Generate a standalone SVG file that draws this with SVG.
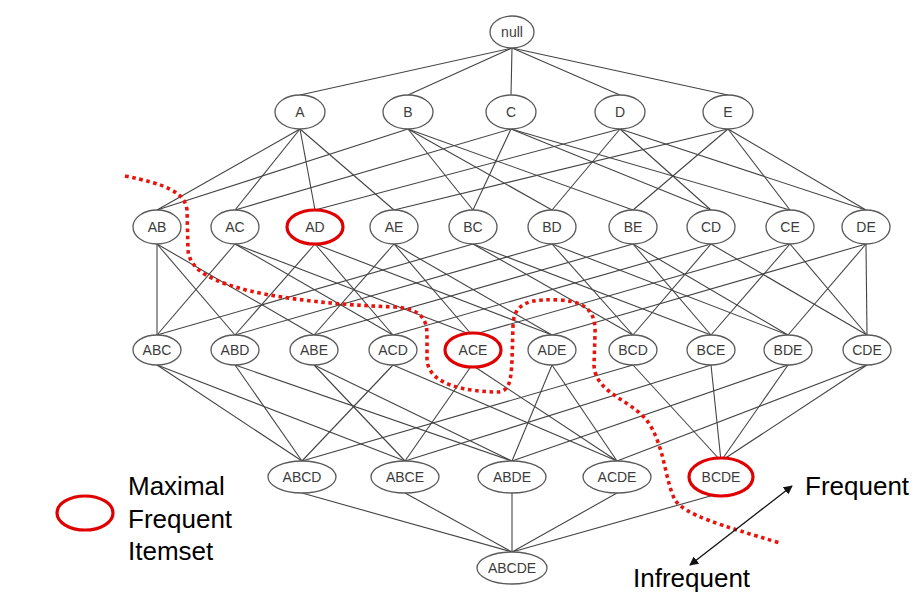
<svg xmlns="http://www.w3.org/2000/svg" width="915" height="599" viewBox="0 0 915 599">
  <style>
    .edge { stroke: #444444; stroke-width: 1.1; fill: none; }
    .node ellipse { fill: #ffffff; stroke: #5a5a5a; stroke-width: 1.3; }
    .node text { font-family: "Liberation Sans", Arial, sans-serif; font-size: 14px; fill: #3c3c3c; text-anchor: middle; dominant-baseline: central; }
    .node ellipse.maximal { stroke: #e00000; stroke-width: 3.2; }
    .border { stroke: #e8140c; stroke-width: 3.6; fill: none; stroke-dasharray: 3.6 3.6; }
    .legend { font-family: "Liberation Sans", Arial, sans-serif; font-size: 26px; fill: #000000; }
    .dir { stroke: #111111; stroke-width: 1.3; fill: none; }
  </style>
  <defs>
    <marker id="head" viewBox="0 0 10 10" refX="9" refY="5" markerWidth="9" markerHeight="9" markerUnits="userSpaceOnUse" orient="auto-start-reverse">
      <path d="M0,0 L10,5 L0,10 Z" fill="#111111"/>
    </marker>
  </defs>
  <rect width="915" height="599" fill="#ffffff"/>

  <!-- lattice edges: bottom of subset to top of superset -->
  <g id="connectors" class="edge">
    <!-- null to singletons -->
    <line x1="512" y1="48" x2="300" y2="95"/>
    <line x1="512" y1="48" x2="408" y2="95"/>
    <line x1="512" y1="48" x2="511" y2="95"/>
    <line x1="512" y1="48" x2="620" y2="95"/>
    <line x1="512" y1="48" x2="728" y2="95"/>
    <!-- singletons to pairs -->
    <line x1="300" y1="129" x2="157" y2="210"/>
    <line x1="300" y1="129" x2="235" y2="210"/>
    <line x1="300" y1="129" x2="315" y2="210"/>
    <line x1="300" y1="129" x2="394" y2="210"/>
    <line x1="408" y1="129" x2="157" y2="210"/>
    <line x1="408" y1="129" x2="473" y2="210"/>
    <line x1="408" y1="129" x2="552" y2="210"/>
    <line x1="408" y1="129" x2="633" y2="210"/>
    <line x1="511" y1="129" x2="235" y2="210"/>
    <line x1="511" y1="129" x2="473" y2="210"/>
    <line x1="511" y1="129" x2="711" y2="210"/>
    <line x1="511" y1="129" x2="790" y2="210"/>
    <line x1="620" y1="129" x2="315" y2="210"/>
    <line x1="620" y1="129" x2="552" y2="210"/>
    <line x1="620" y1="129" x2="711" y2="210"/>
    <line x1="620" y1="129" x2="866" y2="210"/>
    <line x1="728" y1="129" x2="394" y2="210"/>
    <line x1="728" y1="129" x2="633" y2="210"/>
    <line x1="728" y1="129" x2="790" y2="210"/>
    <line x1="728" y1="129" x2="866" y2="210"/>
    <!-- pairs to triples -->
    <line x1="157" y1="244" x2="157" y2="335"/>
    <line x1="157" y1="244" x2="235" y2="335"/>
    <line x1="157" y1="244" x2="314" y2="335"/>
    <line x1="235" y1="244" x2="157" y2="335"/>
    <line x1="235" y1="244" x2="393" y2="335"/>
    <line x1="235" y1="244" x2="472" y2="335"/>
    <line x1="315" y1="244" x2="235" y2="335"/>
    <line x1="315" y1="244" x2="393" y2="335"/>
    <line x1="315" y1="244" x2="552" y2="335"/>
    <line x1="394" y1="244" x2="314" y2="335"/>
    <line x1="394" y1="244" x2="472" y2="335"/>
    <line x1="394" y1="244" x2="552" y2="335"/>
    <line x1="473" y1="244" x2="157" y2="335"/>
    <line x1="473" y1="244" x2="633" y2="335"/>
    <line x1="473" y1="244" x2="711" y2="335"/>
    <line x1="552" y1="244" x2="235" y2="335"/>
    <line x1="552" y1="244" x2="633" y2="335"/>
    <line x1="552" y1="244" x2="788" y2="335"/>
    <line x1="633" y1="244" x2="314" y2="335"/>
    <line x1="633" y1="244" x2="711" y2="335"/>
    <line x1="633" y1="244" x2="788" y2="335"/>
    <line x1="711" y1="244" x2="393" y2="335"/>
    <line x1="711" y1="244" x2="633" y2="335"/>
    <line x1="711" y1="244" x2="867" y2="335"/>
    <line x1="790" y1="244" x2="472" y2="335"/>
    <line x1="790" y1="244" x2="711" y2="335"/>
    <line x1="790" y1="244" x2="867" y2="335"/>
    <line x1="866" y1="244" x2="552" y2="335"/>
    <line x1="866" y1="244" x2="788" y2="335"/>
    <line x1="866" y1="244" x2="867" y2="335"/>
    <!-- triples to quadruples -->
    <line x1="157" y1="365" x2="302" y2="461"/>
    <line x1="157" y1="365" x2="405" y2="461"/>
    <line x1="235" y1="365" x2="302" y2="461"/>
    <line x1="235" y1="365" x2="512" y2="461"/>
    <line x1="314" y1="365" x2="405" y2="461"/>
    <line x1="314" y1="365" x2="512" y2="461"/>
    <line x1="393" y1="365" x2="302" y2="461"/>
    <line x1="393" y1="365" x2="617" y2="461"/>
    <line x1="472" y1="365" x2="405" y2="461"/>
    <line x1="472" y1="365" x2="617" y2="461"/>
    <line x1="552" y1="365" x2="512" y2="461"/>
    <line x1="552" y1="365" x2="617" y2="461"/>
    <line x1="633" y1="365" x2="302" y2="461"/>
    <line x1="633" y1="365" x2="721" y2="461"/>
    <line x1="711" y1="365" x2="405" y2="461"/>
    <line x1="711" y1="365" x2="721" y2="461"/>
    <line x1="788" y1="365" x2="512" y2="461"/>
    <line x1="788" y1="365" x2="721" y2="461"/>
    <line x1="867" y1="365" x2="617" y2="461"/>
    <line x1="867" y1="365" x2="721" y2="461"/>
    <!-- quadruples to the full itemset -->
    <line x1="302" y1="493" x2="512" y2="552"/>
    <line x1="405" y1="493" x2="512" y2="552"/>
    <line x1="512" y1="493" x2="512" y2="552"/>
    <line x1="617" y1="493" x2="512" y2="552"/>
    <line x1="721" y1="493" x2="512" y2="552"/>
  </g>

  <!-- level 0 -->
  <g id="null" class="node"><ellipse cx="512" cy="32" rx="22" ry="16"/><text x="512" y="32">null</text></g>
  <!-- level 1 -->
  <g id="A" class="node"><ellipse cx="300" cy="112" rx="25" ry="17"/><text x="300" y="112">A</text></g>
  <g id="B" class="node"><ellipse cx="408" cy="112" rx="25" ry="17"/><text x="408" y="112">B</text></g>
  <g id="C" class="node"><ellipse cx="511" cy="112" rx="25" ry="17"/><text x="511" y="112">C</text></g>
  <g id="D" class="node"><ellipse cx="620" cy="112" rx="25" ry="17"/><text x="620" y="112">D</text></g>
  <g id="E" class="node"><ellipse cx="728" cy="112" rx="25" ry="17"/><text x="728" y="112">E</text></g>
  <!-- level 2 -->
  <g id="AB" class="node"><ellipse cx="157" cy="227" rx="24" ry="17"/><text x="157" y="227">AB</text></g>
  <g id="AC" class="node"><ellipse cx="235" cy="227" rx="24" ry="17"/><text x="235" y="227">AC</text></g>
  <g id="AD" class="node"><ellipse class="maximal" cx="315" cy="227" rx="28" ry="17"/><text x="315" y="227">AD</text></g>
  <g id="AE" class="node"><ellipse cx="394" cy="227" rx="24" ry="17"/><text x="394" y="227">AE</text></g>
  <g id="BC" class="node"><ellipse cx="473" cy="227" rx="24" ry="17"/><text x="473" y="227">BC</text></g>
  <g id="BD" class="node"><ellipse cx="552" cy="227" rx="24" ry="17"/><text x="552" y="227">BD</text></g>
  <g id="BE" class="node"><ellipse cx="633" cy="227" rx="24" ry="17"/><text x="633" y="227">BE</text></g>
  <g id="CD" class="node"><ellipse cx="711" cy="227" rx="24" ry="17"/><text x="711" y="227">CD</text></g>
  <g id="CE" class="node"><ellipse cx="790" cy="227" rx="24" ry="17"/><text x="790" y="227">CE</text></g>
  <g id="DE" class="node"><ellipse cx="866" cy="227" rx="24" ry="17"/><text x="866" y="227">DE</text></g>
  <!-- level 3 -->
  <g id="ABC" class="node"><ellipse cx="157" cy="350" rx="24" ry="15"/><text x="157" y="350">ABC</text></g>
  <g id="ABD" class="node"><ellipse cx="235" cy="350" rx="24" ry="15"/><text x="235" y="350">ABD</text></g>
  <g id="ABE" class="node"><ellipse cx="314" cy="350" rx="24" ry="15"/><text x="314" y="350">ABE</text></g>
  <g id="ACD" class="node"><ellipse cx="393" cy="350" rx="24" ry="15"/><text x="393" y="350">ACD</text></g>
  <g id="ACE" class="node"><ellipse class="maximal" cx="473" cy="350" rx="28" ry="17"/><text x="473" y="350">ACE</text></g>
  <g id="ADE" class="node"><ellipse cx="552" cy="350" rx="24" ry="15"/><text x="552" y="350">ADE</text></g>
  <g id="BCD" class="node"><ellipse cx="633" cy="350" rx="24" ry="15"/><text x="633" y="350">BCD</text></g>
  <g id="BCE" class="node"><ellipse cx="711" cy="350" rx="24" ry="15"/><text x="711" y="350">BCE</text></g>
  <g id="BDE" class="node"><ellipse cx="788" cy="350" rx="24" ry="15"/><text x="788" y="350">BDE</text></g>
  <g id="CDE" class="node"><ellipse cx="867" cy="350" rx="24" ry="15"/><text x="867" y="350">CDE</text></g>
  <!-- level 4 -->
  <g id="ABCD" class="node"><ellipse cx="302" cy="477" rx="34" ry="16"/><text x="302" y="477">ABCD</text></g>
  <g id="ABCE" class="node"><ellipse cx="405" cy="477" rx="34" ry="16"/><text x="405" y="477">ABCE</text></g>
  <g id="ABDE" class="node"><ellipse cx="512" cy="477" rx="34" ry="16"/><text x="512" y="477">ABDE</text></g>
  <g id="ACDE" class="node"><ellipse cx="617" cy="477" rx="34" ry="16"/><text x="617" y="477">ACDE</text></g>
  <g id="BCDE" class="node"><ellipse class="maximal" cx="721" cy="477" rx="32" ry="19"/><text x="721" y="477">BCDE</text></g>
  <!-- level 5 -->
  <g id="ABCDE" class="node"><ellipse cx="512" cy="568" rx="35" ry="16"/><text x="512" y="568">ABCDE</text></g>

  <!-- frequent / infrequent border -->
  <path class="border" d="M125,176 C165,184 185,192 187,210 L188,250 C190,272 215,282 250,291 C290,300 340,305 395,307 C420,309 427,318 427,335 L427,360 C429,385 465,391 495,392 C510,393 511,380 512,360 L513,325 C514,300 535,299 560,300 C590,302 596,315 595,335 L594,365 C595,395 635,400 650,425 C665,450 665,480 675,500 C685,515 720,525 780,543"/>

  <!-- legend -->
  <g id="legend">
    <ellipse cx="85" cy="513" rx="28" ry="17" fill="none" stroke="#e00000" stroke-width="3.2"/>
    <text class="legend" x="128" y="495">Maximal</text>
    <text class="legend" x="128" y="528">Frequent</text>
    <text class="legend" x="128" y="560">Itemset</text>
  </g>

  <!-- direction arrow -->
  <g id="direction">
    <line class="dir" x1="690" y1="565" x2="792" y2="486" marker-start="url(#head)" marker-end="url(#head)"/>
    <text class="legend" x="805" y="495">Frequent</text>
    <text class="legend" x="633" y="587">Infrequent</text>
  </g>
</svg>
